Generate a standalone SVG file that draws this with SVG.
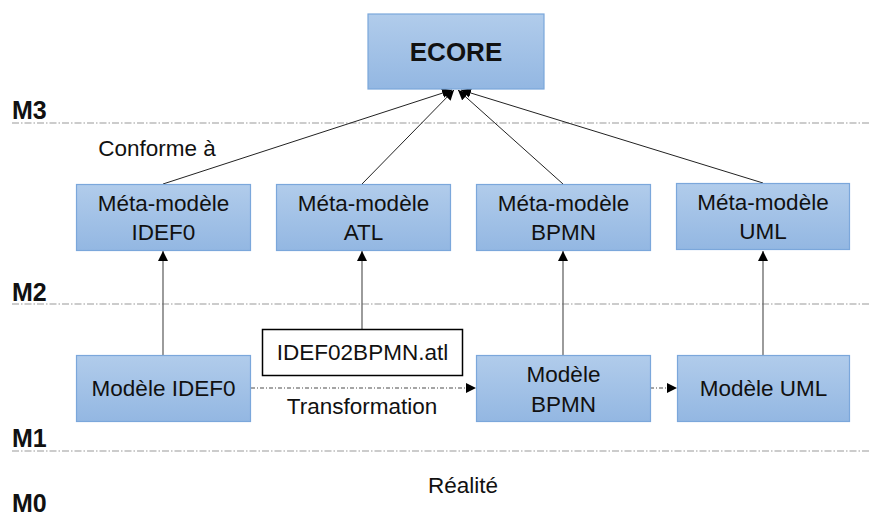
<svg xmlns="http://www.w3.org/2000/svg" width="871" height="516" viewBox="0 0 871 516">
<style>
.box{fill:url(#g);stroke:#7ba7db;stroke-width:1.2}
.t{font-family:"Liberation Sans",Arial,sans-serif;font-size:22.5px;fill:#111;text-anchor:middle}
.lv{font-family:"Liberation Sans",Arial,sans-serif;font-size:25px;font-weight:bold;fill:#111}
.div{stroke:#999;stroke-width:1.2;stroke-dasharray:7 2 1.5 2;fill:none}
.c{stroke:#222;stroke-width:1;fill:none}
.v{stroke:#666;stroke-width:1.3;fill:none}
.d{stroke:#888;stroke-width:1.3;stroke-dasharray:4 2 1 2;fill:none}
</style>
<defs>
<linearGradient id="g" x1="0" y1="0" x2="0" y2="1">
<stop offset="0" stop-color="#b1cceb"/>
<stop offset="1" stop-color="#93b7e2"/>
</linearGradient>
<marker id="a" viewBox="0 0 10 10" refX="10" refY="5" markerWidth="10" markerHeight="10" markerUnits="userSpaceOnUse" orient="auto">
<path d="M0,0 L10,5 L0,10 z" fill="#000"/>
</marker>
</defs>
<rect width="871" height="516" fill="#fff"/>
<g id="levels">
<line class="div" x1="12" y1="123" x2="871" y2="123"/>
<line class="div" x1="12" y1="304" x2="871" y2="304"/>
<line class="div" x1="12" y1="451" x2="871" y2="451"/>
<text class="lv" x="12" y="119">M3</text>
<text class="lv" x="12" y="301">M2</text>
<text class="lv" x="12" y="447">M1</text>
<text class="lv" x="12" y="512">M0</text>
<text class="t" x="157" y="156">Conforme à</text>
<text class="t" x="362" y="414">Transformation</text>
<text class="t" x="463" y="493">Réalité</text>
</g>
<g id="connectors">
<line class="c" x1="163" y1="184" x2="452" y2="90" marker-end="url(#a)"/>
<line class="c" x1="362" y1="184" x2="454" y2="90" marker-end="url(#a)"/>
<line class="c" x1="563" y1="184" x2="458" y2="90" marker-end="url(#a)"/>
<line class="c" x1="763" y1="183" x2="461" y2="90" marker-end="url(#a)"/>
<line class="v" x1="163" y1="355" x2="163" y2="251" marker-end="url(#a)"/>
<line class="v" x1="362" y1="329" x2="362" y2="251" marker-end="url(#a)"/>
<line class="v" x1="563" y1="355" x2="563" y2="251" marker-end="url(#a)"/>
<line class="v" x1="763" y1="355" x2="763" y2="251" marker-end="url(#a)"/>
<line class="d" x1="251" y1="388" x2="476" y2="388" marker-end="url(#a)"/>
<line class="d" x1="650" y1="388" x2="677" y2="388" marker-end="url(#a)"/>
</g>
<g id="ecore">
<rect class="box" x="368" y="14" width="176" height="75"/>
<text class="t" x="456" y="61" style="font-size:26px;font-weight:bold">ECORE</text>
</g>
<g id="mm-idef0">
<rect class="box" x="76.5" y="184.5" width="174" height="66"/>
<text class="t" x="163.5" y="211">Méta-modèle</text>
<text class="t" x="163.5" y="240">IDEF0</text>
</g>
<g id="mm-atl">
<rect class="box" x="276.5" y="184.5" width="174" height="66"/>
<text class="t" x="363.5" y="211">Méta-modèle</text>
<text class="t" x="363.5" y="240">ATL</text>
</g>
<g id="mm-bpmn">
<rect class="box" x="476.5" y="184.5" width="174" height="66"/>
<text class="t" x="563.5" y="211">Méta-modèle</text>
<text class="t" x="563.5" y="240">BPMN</text>
</g>
<g id="mm-uml">
<rect class="box" x="676.5" y="183.5" width="173" height="66"/>
<text class="t" x="763" y="210">Méta-modèle</text>
<text class="t" x="763" y="239">UML</text>
</g>
<g id="m-idef0">
<rect class="box" x="76.5" y="355.5" width="174" height="66"/>
<text class="t" x="163.5" y="396">Modèle IDEF0</text>
</g>
<g id="atl-file">
<rect x="262.5" y="329.5" width="200" height="46" fill="#fff" stroke="#000" stroke-width="1.5"/>
<text class="t" x="362.5" y="360">IDEF02BPMN.atl</text>
</g>
<g id="m-bpmn">
<rect class="box" x="476.5" y="355.5" width="174" height="66"/>
<text class="t" x="563.5" y="382">Modèle</text>
<text class="t" x="563.5" y="412">BPMN</text>
</g>
<g id="m-uml">
<rect class="box" x="677.5" y="355.5" width="172" height="66"/>
<text class="t" x="763.5" y="396">Modèle UML</text>
</g>
</svg>
